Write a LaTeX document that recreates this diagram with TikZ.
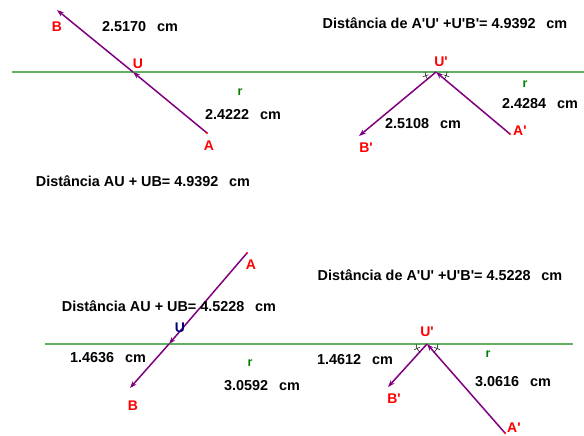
\documentclass[tikz,border=0pt]{standalone}
\usepackage{fontspec}
\setmainfont{Liberation Sans}[Ligatures=TeXOff]
\usepackage{xcolor}
\definecolor{vecpurple}{HTML}{800080}
\definecolor{rline}{HTML}{5FB05F}
\definecolor{rgreen}{HTML}{008000}
\definecolor{ptred}{HTML}{FF0000}
\definecolor{ptnavy}{HTML}{000080}
\usetikzlibrary{arrows.meta, positioning}

\begin{document}
\begin{tikzpicture}[
  x=1pt, y=-1pt,
  measure/.style={font=\fontsize{14.4}{17}\selectfont\bfseries, inner sep=0pt},
  ptlabel/.style={font=\fontsize{14}{16}\selectfont\bfseries, text=ptred, inner sep=0pt},
  rlabel/.style={font=\fontsize{12.5}{14}\selectfont\bfseries, text=rgreen, inner sep=0pt},
  mirror/.style={draw=rline, line width=1.1pt},
  vec/.style={-{Stealth[length=7pt, width=5pt]}, draw=vecpurple, line width=1.5pt},
  anglemark/.style={draw=black, line width=0.5pt},
  startdot/.style={fill=ptred},
]

\fill[white] (0,0) rectangle (584,436);
\useasboundingbox (0,0) rectangle (584,436);

% points
\coordinate (B1) at (57,10);
\coordinate (U1) at (133,72);
\coordinate (A1) at (207,133);
\coordinate (r1w) at (12,72);
\coordinate (r1e) at (303,72);

\coordinate (U2) at (436,72);
\coordinate (B2) at (359,136);
\coordinate (A2) at (510,134);
\coordinate (r2w) at (303,72);
\coordinate (r2e) at (584,72);

\coordinate (A3) at (247,253);
\coordinate (U3) at (169,344);
\coordinate (B3) at (130,388);
\coordinate (r3w) at (45,344);
\coordinate (r3e) at (303,344);

\coordinate (U4) at (427,344);
\coordinate (B4) at (388,387);
\coordinate (A4) at (505,433);
\coordinate (r4w) at (303,344);
\coordinate (r4e) at (573,344);

% lines r
\draw[mirror] (r1w) -- (r1e);
\draw[mirror] (r2w) -- (r2e);
\draw[mirror] (r3w) -- (r3e);
\draw[mirror] (r4w) -- (r4e);

% vectors
\draw[vec] (A1) -- (U1);
\draw[vec] (U1) -- (B1);
\draw[vec] (A2) -- (U2);
\draw[vec] (U2) -- (B2);
\draw[vec] (A3) -- (U3);
\draw[vec] (U3) -- (B3);
\draw[vec] (A4) -- (U4);
\draw[vec] (U4) -- (B4);

\fill[startdot] (A1) circle (1.2pt);
\fill[startdot] (A2) circle (1.2pt);
\fill[startdot] (A3) circle (1.2pt);
\fill[startdot] (A4) circle (1.2pt);

% equal angles at U'
\draw[anglemark] (U2) ++(180:11pt) arc[start angle=180, end angle=219, radius=11pt];
\draw[anglemark] (U2) ++(200:8pt) -- ++(200:6pt);
\draw[anglemark] (U2) ++(321:11pt) arc[start angle=321, end angle=360, radius=11pt];
\draw[anglemark] (U2) ++(340:8pt) -- ++(340:6pt);
\draw[anglemark] (U4) ++(180:11pt) arc[start angle=180, end angle=228, radius=11pt];
\draw[anglemark] (U4) ++(204:8pt) -- ++(204:6pt);
\draw[anglemark] (U4) ++(311:11pt) arc[start angle=311, end angle=360, radius=11pt];
\draw[anglemark] (U4) ++(336:8pt) -- ++(336:6pt);

% point labels
\node[ptlabel, below=12pt of B1]             (labB1) {B};
\node[ptlabel, above=3pt of U1, xshift=5pt]  (labU1) {U};
\node[ptlabel, below=8pt of A1, xshift=2pt]  (labA1) {A};

\node[ptlabel, above=5pt of U2, xshift=5pt]  (labU2) {U'};
\node[ptlabel, below=7pt of B2, xshift=7pt]  (labB2) {B'};
\node[ptlabel, right=3pt of A2, yshift=3pt]  (labA2) {A'};

\node[ptlabel, below=7pt of A3, xshift=4pt]  (labA3) {A};
\node[ptlabel, text=ptnavy, above=11pt of U3, xshift=11pt] (labU3) {U};
\node[ptlabel, below=13pt of B3, xshift=3pt] (labB3) {B};

\node[ptlabel, above=7pt of U4]              (labU4) {U'};
\node[ptlabel, below=7pt of B4, xshift=6pt]  (labB4) {B'};
\node[ptlabel, right=2pt of A4, yshift=5pt]  (labA4) {A'};

% r labels
\node[rlabel] (labr1) at (240,92)  {r};
\node[rlabel] (labr2) at (525,84)  {r};
\node[rlabel] (labr3) at (250,363) {r};
\node[rlabel] (labr4) at (488,354) {r};

% lengths
\node[measure] (mB1) at (140,27)  {2.5170\hspace{0.75em}cm};
\node[measure] (mA1) at (243,115) {2.4222\hspace{0.75em}cm};
\node[measure] (sum1) at (143,181) {Distância AU + UB= 4.9392\hspace{0.75em}cm};

\node[measure] (sum2) at (445,23)  {Distância de A'U' +U'B'= 4.9392\hspace{0.75em}cm};
\node[measure] (mA2) at (540,104) {2.4284\hspace{0.75em}cm};
\node[measure] (mB2) at (423,124) {2.5108\hspace{0.75em}cm};

\node[measure] (sum3) at (169,306) {Distância AU + UB= 4.5228\hspace{0.75em}cm};
\node[measure] (mB3) at (108,358) {1.4636\hspace{0.75em}cm};
\node[measure] (mA3) at (262,386) {3.0592\hspace{0.75em}cm};

\node[measure] (sum4) at (440,275) {Distância de A'U' +U'B'= 4.5228\hspace{0.75em}cm};
\node[measure] (mB4) at (355,360) {1.4612\hspace{0.75em}cm};
\node[measure] (mA4) at (513,382) {3.0616\hspace{0.75em}cm};

\end{tikzpicture}
\end{document}
